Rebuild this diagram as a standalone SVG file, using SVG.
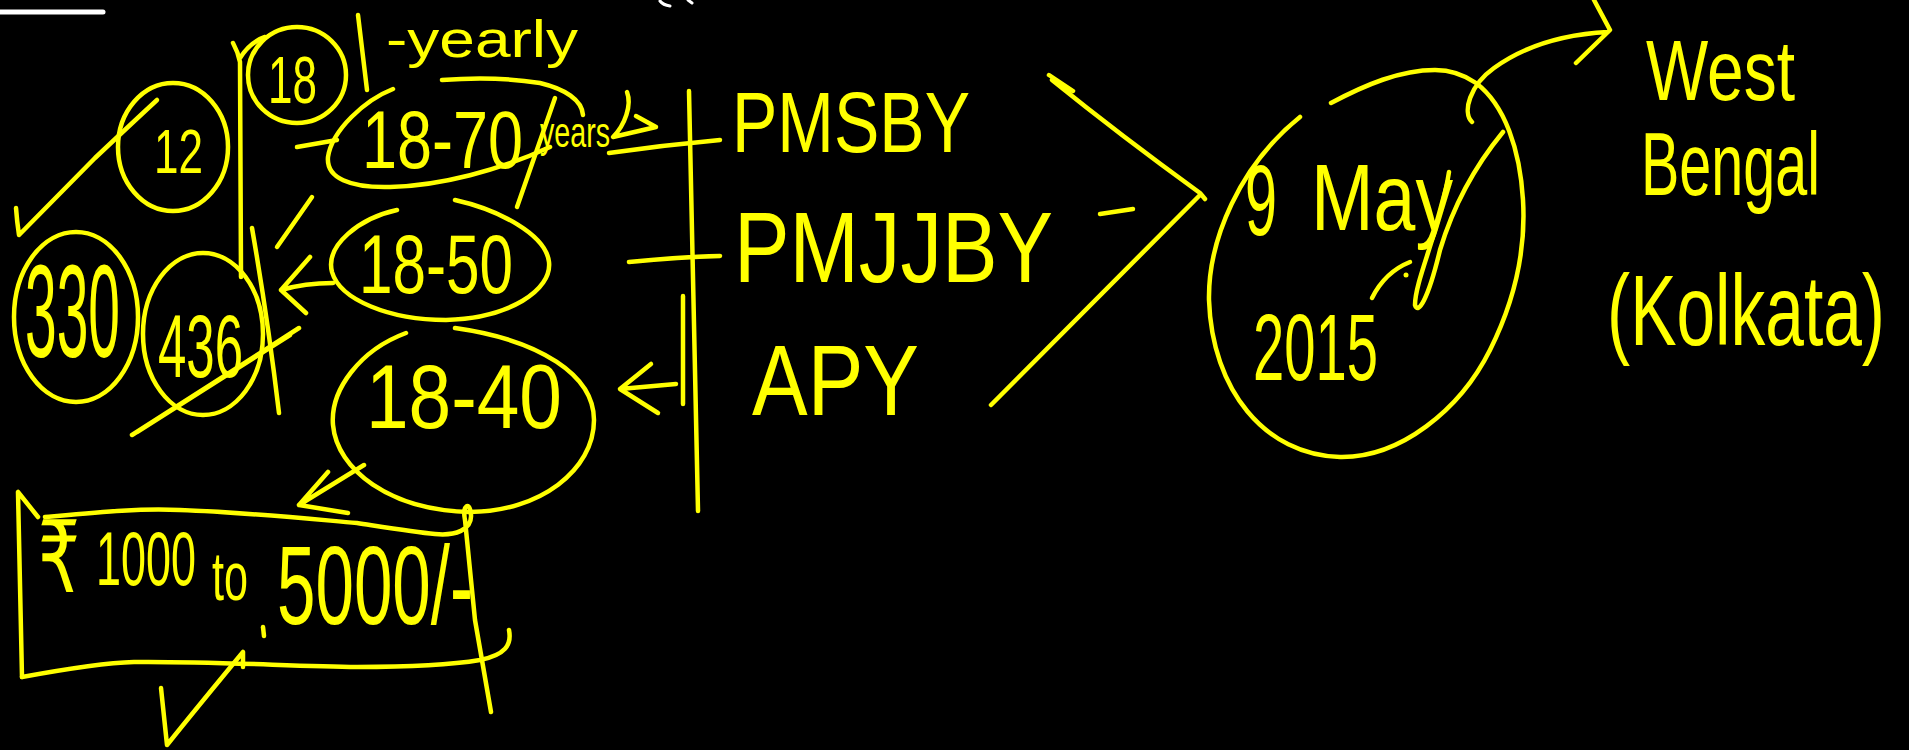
<svg xmlns="http://www.w3.org/2000/svg" width="1909" height="750" viewBox="0 0 1909 750">
<style>
.s{fill:none;stroke:#FFFF00;stroke-width:4.5;stroke-linecap:round;stroke-linejoin:round}
.w{fill:none;stroke:#FFFFFF;stroke-width:5;stroke-linecap:round}
.t{fill:#FFFF00;font-family:"Liberation Sans","DejaVu Sans",sans-serif}
</style>
<rect width="1909" height="750" fill="#000000"/>
<g id="marks">
<path class="w" d="M0,12 L103,12"/>
<path class="w" d="M660,1 Q663,5 670,6 M688,0 L692,3" style="stroke-width:3"/>
</g>
<g id="n18">
<ellipse class="s" cx="297" cy="75" rx="49" ry="48"/>
<text class="t" transform="translate(268,103) scale(1,1.5)" font-size="44" textLength="49" lengthAdjust="spacingAndGlyphs">18</text>
</g>
<g id="nyearly">
<text class="t" x="386" y="57" font-size="52" textLength="192" lengthAdjust="spacingAndGlyphs">-yearly</text>
</g>
<g id="n12">
<ellipse class="s" cx="173" cy="147" rx="55" ry="64"/>
<text class="t" transform="translate(154,173) scale(1,1.45)" font-size="44" textLength="49" lengthAdjust="spacingAndGlyphs">12</text>
</g>
<g id="n330">
<ellipse class="s" cx="76" cy="317" rx="62" ry="85"/>
<text class="t" transform="translate(25,357) scale(1,2.3)" font-size="57" textLength="95" lengthAdjust="spacingAndGlyphs">330</text>
</g>
<g id="n436">
<ellipse class="s" cx="203" cy="334" rx="60" ry="81"/>
<text class="t" transform="translate(158,377) scale(1,1.75)" font-size="51" textLength="85" lengthAdjust="spacingAndGlyphs">436</text>
</g>
<g id="n1870">
<path class="s" d="M393,89 C365,100 332,130 328,157 C326,178 350,188 390,187 C440,186 500,170 550,147"/>
<path class="s" d="M442,80 C480,77 515,79 540,83 C565,89 582,100 583,115"/>
<text class="t" transform="translate(362,168) scale(1,1.29)" font-size="63" textLength="161" lengthAdjust="spacingAndGlyphs">18-70</text>
<text class="t" transform="translate(540,147) scale(1,1.47)" font-size="28.6" textLength="70" lengthAdjust="spacingAndGlyphs">years</text>
</g>
<g id="n1850">
<path class="s" d="M397,210 C360,218 325,245 332,272 C340,300 390,320 446,320 C510,318 552,290 549,262 C546,235 500,210 455,200"/>
<text class="t" transform="translate(359,293) scale(1,1.4)" font-size="60" textLength="154" lengthAdjust="spacingAndGlyphs">18-50</text>
</g>
<g id="n1840">
<path class="s" d="M406,333 C360,350 330,390 333,425 C337,470 390,510 469,512 C540,512 594,470 594,420 C594,375 540,340 455,328"/>
<text class="t" transform="translate(366,428) scale(1,1.18)" font-size="77" textLength="196" lengthAdjust="spacingAndGlyphs">18-40</text>
</g>
<g id="nbox">
<path class="s" d="M38,517 L18,492 L22,677"/>
<path class="s" d="M45,517 C100,512 140,508 180,510 C240,512 300,518 357,523 C390,528 415,532 435,534 C455,536 472,530 471,515 C470,500 462,505 465,520 L475,620 L491,712"/>
<path class="s" d="M22,677 C60,670 100,663 134,662 C200,661 290,666 357,667 C410,667 450,665 480,660 C505,655 512,645 509,630"/>
<path class="s" d="M263,627 L264,636"/>
<text class="t" transform="translate(38,592) scale(1,1.33)" font-size="75" textLength="42" lengthAdjust="spacingAndGlyphs">₹</text>
<text class="t" transform="translate(96,585) scale(1,1.7)" font-size="45" textLength="100" lengthAdjust="spacingAndGlyphs">1000</text>
<text class="t" transform="translate(212,600) scale(1,1.6)" font-size="43" textLength="36" lengthAdjust="spacingAndGlyphs">to</text>
<text class="t" transform="translate(277,624) scale(1,1.6)" font-size="69" textLength="196" lengthAdjust="spacingAndGlyphs">5000/-</text>
</g>
<g id="npmsby">
<text class="t" transform="translate(732,152) scale(1,1.25)" font-size="68" textLength="238" lengthAdjust="spacingAndGlyphs">PMSBY</text>
</g>
<g id="npmjjby">
<text class="t" transform="translate(734,282) scale(1,1.2)" font-size="83" textLength="319" lengthAdjust="spacingAndGlyphs">PMJJBY</text>
</g>
<g id="napy">
<text class="t" transform="translate(752,415) scale(1,1.2)" font-size="83" textLength="167" lengthAdjust="spacingAndGlyphs">APY</text>
</g>
<g id="ndate">
<path class="s" d="M1300,117 C1240,165 1208,240 1209,300 C1212,390 1265,455 1340,457 C1400,458 1460,410 1490,350 C1515,300 1526,250 1523,200 C1520,150 1505,105 1476,83 C1460,72 1445,70 1435,70 C1400,70 1365,85 1331,103"/>
<text class="t" transform="translate(1245,235) scale(1,1.75)" font-size="57" textLength="32" lengthAdjust="spacingAndGlyphs">9</text>
<text class="t" transform="translate(1311,230) scale(1,1.27)" font-size="75" textLength="142" lengthAdjust="spacingAndGlyphs">May</text>
<path class="s" d="M1449,172 C1440,230 1415,280 1415,305 C1418,315 1428,300 1440,250 C1455,200 1480,160 1503,132"/>
<path class="s" d="M1372,298 Q1385,272 1410,262"/>
<circle cx="1406" cy="275" r="2.5" fill="#FFFF00"/>
<text class="t" transform="translate(1253,380) scale(1,1.7)" font-size="56" textLength="125" lengthAdjust="spacingAndGlyphs">2015</text>
</g>
<g id="nwb">
<text class="t" transform="translate(1646,100) scale(1,1.3)" font-size="65" textLength="149" lengthAdjust="spacingAndGlyphs">West</text>
<text class="t" transform="translate(1641,195) scale(1,1.56)" font-size="57.5" textLength="179" lengthAdjust="spacingAndGlyphs">Bengal</text>
<text class="t" transform="translate(1607,345) scale(1,1.44)" font-size="69.5" textLength="278" lengthAdjust="spacingAndGlyphs">(Kolkata)</text>
</g>
<g id="connectors">
<path class="s" d="M16,208 Q17,222 19,235 L95,158 Q130,125 157,100"/>
<path class="s" d="M233,43 Q238,52 240,62 L241,277 M240,58 Q250,42 265,37"/>
<path class="s" d="M358,15 L367,90"/>
<path class="s" d="M252,228 Q268,320 279,413"/>
<path class="s" d="M312,197 L277,247"/>
<path class="s" d="M310,257 L281,290 L306,313 M281,290 Q305,283 333,283"/>
<path class="s" d="M132,435 L299,328 M137,432 L290,335"/>
<path class="s" d="M297,147 L337,140"/>
<path class="s" d="M555,98 L517,207"/>
<path class="s" d="M627,92 C632,105 625,125 613,137 L656,127 L636,116"/>
<path class="s" d="M609,153 Q665,145 720,140"/>
<path class="s" d="M689,91 Q693,300 698,511 M683,296 L683,404"/>
<path class="s" d="M629,262 Q680,257 720,256"/>
<path class="s" d="M651,364 L620,389 L658,413 M620,389 L676,384"/>
<path class="s" d="M364,465 L299,505 M328,472 L299,505 L348,513"/>
<path class="s" d="M161,688 L167,745 Q195,710 243,652 L243,667"/>
<path class="s" d="M1100,214 L1133,209"/>
<path class="s" d="M1049,75 L1073,91 M1052,80 Q1120,135 1200,193 L1205,199 M1200,195 L991,405"/>
<path class="s" d="M1472,122 C1462,112 1470,85 1494,68 C1530,42 1570,34 1608,32 M1594,0 L1610,30 L1576,63"/>
</g>
</svg>
